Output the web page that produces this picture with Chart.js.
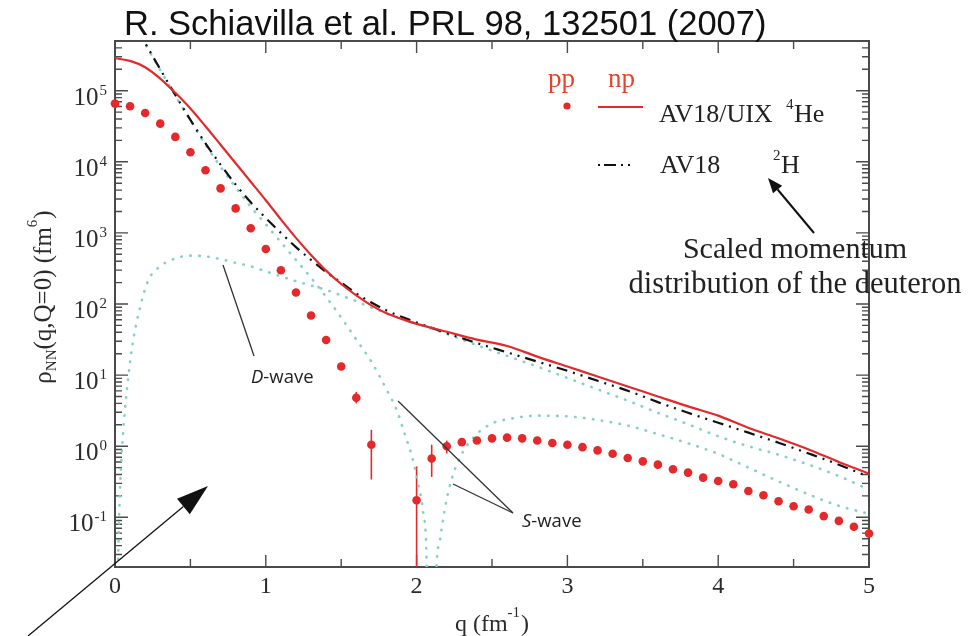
<!DOCTYPE html>
<html>
<head>
<meta charset="utf-8">
<title>pp and np momentum distributions</title>
<script src="https://cdn.jsdelivr.net/npm/chart.js@4.4.1/dist/chart.umd.min.js"></script>
<style>
  html, body { margin: 0; padding: 0; background: #fff; }
  canvas { display: block; }
</style>
</head>
<body>
<canvas id="chart" width="972" height="636"></canvas>
<script>
// pp pairs in 4He (AV18/UIX), red points
const ppQ = [0.0, 0.1, 0.2, 0.3, 0.4, 0.5, 0.6, 0.7, 0.8, 0.9, 1.0, 1.1, 1.2, 1.3, 1.4, 1.5, 1.6, 1.7, 1.8, 1.9,
             2.0, 2.1, 2.2, 2.3, 2.4, 2.5, 2.6, 2.7, 2.8, 2.9, 3.0, 3.1, 3.2, 3.3, 3.4, 3.5, 3.6, 3.7, 3.8, 3.9,
             4.0, 4.1, 4.2, 4.3, 4.4, 4.5, 4.6, 4.7, 4.8, 4.9, 5.0];
const ppRho = [65800, 60300, 48500, 34400, 22400, 13600, 7620, 4230, 2210, 1160, 594, 299, 145, 69, 31.2, 13.2, 4.8, 1.05, null, null,
               0.174, 0.67, 1.0, 1.14, 1.2, 1.29, 1.32, 1.29, 1.2, 1.11, 1.05, 0.97, 0.873, 0.785, 0.681, 0.612, 0.55, 0.473, 0.425, 0.361,
               0.324, 0.291, 0.234, 0.204, 0.168, 0.143, 0.129, 0.104, 0.089, 0.0735, 0.0593];

// error bars on the pp points around the node
const errQ = [1.6, 1.7, 2.0, 2.1, 2.2];
const errLow = [4.0, 0.34, 0.01, 0.37, 0.79];
const errHigh = [5.8, 1.7, 0.52, 1.05, 1.2];

// np pairs in 4He (AV18/UIX), red solid line
const npQ = [0.0, 0.1, 0.2, 0.3, 0.4, 0.5, 0.6, 0.7, 0.8, 0.9, 1.0, 1.1, 1.2, 1.3, 1.4, 1.5, 1.6, 1.7, 1.8, 1.9,
             2.0, 2.2, 2.4, 2.6, 2.8, 3.0, 3.2, 3.4, 3.6, 3.8, 4.0, 4.2, 4.4, 4.6, 4.8, 5.0];
const npRho = [286000, 263000, 214000, 148000, 93300, 56200, 31600, 17400, 9550, 5250, 2880, 1550, 851, 490, 295, 191, 132, 95.5, 74.1, 61.7,
               52.5, 40.7, 31.6, 25.7, 18.2, 13.2, 9.55, 6.92, 5.01, 3.63, 2.69, 1.82, 1.29, 0.90, 0.60, 0.41];

// scaled deuteron (AV18 2H), dash-dot line
const d2Q = [0.15, 0.2, 0.3, 0.4, 0.5, 0.6, 0.7, 0.8, 0.9, 1.0, 1.1, 1.2, 1.3, 1.4, 1.5, 1.6, 1.7, 1.8, 1.9,
             2.0, 2.2, 2.4, 2.6, 2.8, 3.0, 3.2, 3.4, 3.6, 3.8, 4.0, 4.2, 4.4, 4.6, 4.8, 5.0];
const d2Rho = [724000, 468000, 200000, 87100, 38900, 18200, 9120, 4790, 2690, 1620, 1000, 631, 417, 282, 200, 141, 105, 81.3, 66.1,
               55.0, 38.9, 28.2, 20.9, 15.5, 11.5, 8.32, 6.03, 4.17, 2.95, 2.14, 1.55, 1.12, 0.79, 0.55, 0.37];

// deuteron S-wave part (dotted), node near q = 2.1
const sQ = [0.15, 0.2, 0.3, 0.4, 0.5, 0.6, 0.7, 0.8, 0.9, 1.0, 1.1, 1.2, 1.3, 1.4, 1.5, 1.6, 1.7, 1.8, 1.87, 1.92,
            1.97, 2.01, 2.045, 2.065, 2.085, 2.11, 2.13, 2.155, 2.19, 2.23, 2.29, 2.38, 2.5, 2.62, 2.8, 3.0,
            3.2, 3.4, 3.6, 3.8, 4.0, 4.2, 4.4, 4.6, 4.8, 5.0];
const sRho = [708000, 457000, 195000, 85100, 38000, 17400, 8510, 4370, 2340, 1320, 741, 417, 234, 126, 64.6, 31.6, 15.5, 6.31, 3.16, 1.51,
              0.71, 0.30, 0.112, 0.032, 0.0001, 0.0001, 0.016, 0.048, 0.141, 0.33, 0.71, 1.35, 2.09, 2.43, 2.69, 2.63,
              2.34, 1.95, 1.48, 1.10, 0.78, 0.50, 0.32, 0.21, 0.145, 0.112];

// deuteron D-wave part (dotted)
const dQ = [0.0, 0.022, 0.033, 0.055, 0.088, 0.12, 0.166, 0.22, 0.3, 0.4, 0.5, 0.6, 0.7, 0.8, 0.9, 1.0, 1.1, 1.2, 1.3, 1.4,
            1.5, 1.6, 1.7, 1.8, 1.9, 2.0, 2.2, 2.4, 2.6, 2.8, 3.0, 3.2, 3.4, 3.6, 3.8, 4.0, 4.2, 4.4, 4.6, 4.8, 5.0];
const dRho = [0.0001, 0.035, 0.24, 1.66, 9.33, 30.2, 89.1, 214, 339, 437, 479, 468, 427, 380, 339, 288, 245, 209, 182, 158,
              132, 109, 89.1, 74.1, 62.0, 53.0, 38.0, 26.3, 18.6, 13.2, 9.12, 6.31, 4.37, 2.95, 2.04, 1.38, 1.0, 0.76, 0.55, 0.38, 0.245];

// axes
const xTicks = [0, 1, 2, 3, 4, 5];
const yDecades = [-1, 0, 1, 2, 3, 4, 5];
const yMin = 0.02;
const yMax = 500000;

const RED = '#e3292b';
const TEAL = '#86d0c4';
const INK = '#2b2b2b';
const SERIF = "'Liberation Serif', 'DejaVu Serif', serif";

function pts(xs, ys) {
    return xs.map((x, i) => ({ x: x, y: ys[i] }));
}

// draws a row of text pieces (sub/superscripts), returns the width
function drawRuns(ctx, x, y, runs, color, measureOnly) {
    let cx = x;
    ctx.save();
    ctx.fillStyle = color;
    ctx.textAlign = 'left';
    ctx.textBaseline = 'alphabetic';
    runs.forEach(r => {
        if (r.at !== undefined) cx = r.at;
        ctx.font = (r.style || '') + ' ' + r.size + 'px ' + (r.family || SERIF);
        if (!measureOnly) ctx.fillText(r.text, cx, y + (r.dy || 0));
        cx += ctx.measureText(r.text).width + (r.gap || 0);
    });
    ctx.restore();
    return cx - x;
}

function arrow(ctx, x0, y0, x1, y1, head, half, width) {
    const ang = Math.atan2(y1 - y0, x1 - x0);
    const bx = x1 - head * Math.cos(ang), by = y1 - head * Math.sin(ang);
    ctx.save();
    ctx.strokeStyle = '#111';
    ctx.fillStyle = '#111';
    ctx.lineWidth = width;
    ctx.beginPath();
    ctx.moveTo(x0, y0);
    ctx.lineTo(bx, by);
    ctx.stroke();
    ctx.beginPath();
    ctx.moveTo(x1, y1);
    ctx.lineTo(bx + half * Math.sin(ang), by - half * Math.cos(ang));
    ctx.lineTo(bx - half * Math.sin(ang), by + half * Math.cos(ang));
    ctx.closePath();
    ctx.fill();
    ctx.restore();
}

function line(ctx, x0, y0, x1, y1) {
    ctx.beginPath();
    ctx.moveTo(x0, y0);
    ctx.lineTo(x1, y1);
    ctx.stroke();
}

const decor = {
    id: 'decor',
    beforeDatasetsDraw(chart) {
        const { ctx, chartArea: a, scales: { x, y } } = chart;
        ctx.save();
        ctx.strokeStyle = '#4a4a4a';
        ctx.lineWidth = 1.4;
        ctx.beginPath();
        for (let n = -2; n <= 5; n++) {
            for (let m = 1; m <= 9; m++) {
                const v = m * Math.pow(10, n);
                if (v < yMin || v > yMax) continue;
                const py = y.getPixelForValue(v);
                const len = m === 1 ? 13 : 7;
                ctx.moveTo(a.left, py); ctx.lineTo(a.left + len, py);
                ctx.moveTo(a.right, py); ctx.lineTo(a.right - len, py);
            }
        }
        for (let i = 0; i <= 10; i++) {
            const q = i / 2;
            const px = x.getPixelForValue(q);
            const len = i % 2 === 0 ? 12 : 8;
            ctx.moveTo(px, a.bottom); ctx.lineTo(px, a.bottom - len);
            ctx.moveTo(px, a.top); ctx.lineTo(px, a.top + len);
        }
        ctx.stroke();
        ctx.lineWidth = 2;
        ctx.strokeRect(a.left, a.top, a.right - a.left, a.bottom - a.top);

        // error bars
        ctx.beginPath();
        ctx.rect(a.left, a.top, a.right - a.left, a.bottom - a.top);
        ctx.clip();
        ctx.strokeStyle = RED;
        ctx.lineWidth = 1.6;
        errQ.forEach((q, i) => {
            const px = x.getPixelForValue(q);
            line(ctx, px, y.getPixelForValue(errLow[i]), px, y.getPixelForValue(errHigh[i]));
        });
        ctx.restore();
    },
    afterDraw(chart) {
        const { ctx, chartArea: a, scales: { x, y } } = chart;

        // title
        ctx.save();
        ctx.fillStyle = '#111';
        ctx.font = "34.5px 'Liberation Sans', Arial, sans-serif";
        ctx.fillText('R. Schiavilla et al. PRL 98, 132501 (2007)', 124, 35);
        ctx.restore();

        // x tick labels
        ctx.save();
        ctx.fillStyle = INK;
        ctx.font = '24px ' + SERIF;
        ctx.textAlign = 'center';
        xTicks.forEach(v => ctx.fillText(String(v), x.getPixelForValue(v), 593));
        ctx.restore();

        // y tick labels 10^n
        yDecades.forEach(n => {
            const py = y.getPixelForValue(Math.pow(10, n));
            const expo = [{ text: String(n), size: 15 }];
            const ew = drawRuns(ctx, 0, 0, expo, INK, true);
            const bw = drawRuns(ctx, 0, 0, [{ text: '10', size: 25 }], INK, true);
            drawRuns(ctx, 107 - ew - bw - 1, py + 14, [{ text: '10', size: 25 }], INK);
            drawRuns(ctx, 107 - ew, py + 4, expo, INK);
        });

        // x axis title
        const xt = [{ text: 'q (fm', size: 24 }, { text: '-1', size: 15, dy: -14, gap: 1 }, { text: ')', size: 24 }];
        const xw = drawRuns(ctx, 0, 0, xt, INK, true);
        drawRuns(ctx, 492 - xw / 2, 631, xt, INK);

        // y axis title
        const yt = [{ text: 'ρ', size: 25 }, { text: 'NN', size: 15, dy: 5 }, { text: '(q,Q=0) (fm', size: 25 },
                    { text: '6', size: 15, dy: -14, gap: 1 }, { text: ')', size: 25 }];
        const yw = drawRuns(ctx, 0, 0, yt, INK, true);
        ctx.save();
        ctx.translate(51, 297);
        ctx.rotate(-Math.PI / 2);
        drawRuns(ctx, -yw / 2, 0, yt, INK);
        ctx.restore();

        // legend
        ctx.save();
        ctx.fillStyle = '#e5432b';
        ctx.font = '27px ' + SERIF;
        ctx.fillText('pp', 548, 87);
        ctx.fillText('np', 608, 87);
        ctx.fillStyle = RED;
        ctx.beginPath();
        ctx.arc(567, 106, 3.6, 0, Math.PI * 2);
        ctx.fill();
        ctx.strokeStyle = RED;
        ctx.lineWidth = 2.2;
        line(ctx, 598, 107, 643, 107);
        ctx.strokeStyle = '#111';
        ctx.lineWidth = 2;
        ctx.setLineDash([2, 4, 12, 5, 2, 5, 2, 40]);
        line(ctx, 598, 165, 640, 165);
        ctx.restore();
        drawRuns(ctx, 659, 122, [{ text: 'AV18/UIX', size: 26 }, { text: '4', size: 15, dy: -13, at: 786 }, { text: 'He', size: 26, at: 794 }], '#222');
        drawRuns(ctx, 660, 173, [{ text: 'AV18', size: 26 }, { text: '2', size: 15, dy: -13, at: 773 }, { text: 'H', size: 26, at: 781 }], '#222');

        arrow(ctx, 814, 233, 768, 178, 15, 6, 2);
        ctx.save();
        ctx.fillStyle = '#222';
        ctx.font = '30px ' + SERIF;
        ctx.textAlign = 'center';
        ctx.fillText('Scaled momentum', 795, 258);
        ctx.font = '30.5px ' + SERIF;
        ctx.fillText('distribution of the deuteron', 795, 293);
        ctx.restore();

        // D-wave / S-wave notes
        ctx.save();
        ctx.strokeStyle = '#333';
        ctx.lineWidth = 1.3;
        line(ctx, 223, 265, 254, 356);
        line(ctx, 398, 401, 513, 513);
        line(ctx, 453, 484, 513, 513);
        ctx.restore();
        const sans = "'Open Sans', 'DejaVu Sans', sans-serif";
        drawRuns(ctx, 251, 383, [{ text: 'D', size: 18.5, style: 'italic', family: sans }, { text: '-wave', size: 18.5, family: sans }], '#222');
        drawRuns(ctx, 522, 527, [{ text: 'S', size: 18.5, style: 'italic', family: sans }, { text: '-wave', size: 18.5, family: sans }], '#222');

        // big pointer arrow
        arrow(ctx, 28, 636, 208, 486, 32, 10, 1.3);
    }
};

const ctx = document.getElementById('chart').getContext('2d');
new Chart(ctx, {
    type: 'scatter',
    data: {
        datasets: [
            {
                label: 'pp AV18/UIX 4He',
                data: pts(ppQ, ppRho),
                showLine: false,
                pointRadius: 4.3,
                pointBackgroundColor: RED,
                pointBorderWidth: 0,
                clip: false
            },
            {
                label: 'np AV18/UIX 4He',
                data: pts(npQ, npRho),
                showLine: true,
                borderColor: RED,
                borderWidth: 2.2,
                pointRadius: 0,
                cubicInterpolationMode: 'monotone'
            },
            {
                label: 'AV18 2H',
                data: pts(d2Q, d2Rho),
                showLine: true,
                borderColor: '#111',
                borderWidth: 2.2,
                borderDash: [11, 6, 2, 6, 2, 6],
                pointRadius: 0,
                cubicInterpolationMode: 'monotone'
            },
            {
                label: 'S-wave',
                data: pts(sQ, sRho),
                showLine: true,
                borderColor: TEAL,
                borderWidth: 2.6,
                borderDash: [0.5, 8.5],
                borderCapStyle: 'round',
                pointRadius: 0,
                cubicInterpolationMode: 'monotone'
            },
            {
                label: 'D-wave',
                data: pts(dQ, dRho),
                showLine: true,
                borderColor: TEAL,
                borderWidth: 2.6,
                borderDash: [0.5, 8.5],
                borderCapStyle: 'round',
                pointRadius: 0,
                cubicInterpolationMode: 'monotone'
            }
        ]
    },
    options: {
        responsive: false,
        animation: false,
        devicePixelRatio: 1,
        layout: { padding: { top: 41, right: 103, bottom: 0, left: 0 } },
        plugins: {
            legend: { display: false },
            tooltip: { enabled: false }
        },
        scales: {
            x: {
                type: 'linear',
                min: 0,
                max: 5,
                ticks: { display: false, stepSize: 1 },
                grid: { display: false },
                border: { display: false },
                afterFit: s => { s.height = 69; }
            },
            y: {
                type: 'logarithmic',
                min: yMin,
                max: yMax,
                ticks: { display: false },
                grid: { display: false },
                border: { display: false },
                afterFit: s => { s.width = 115; }
            }
        }
    },
    plugins: [decor]
});
</script>
</body>
</html>
